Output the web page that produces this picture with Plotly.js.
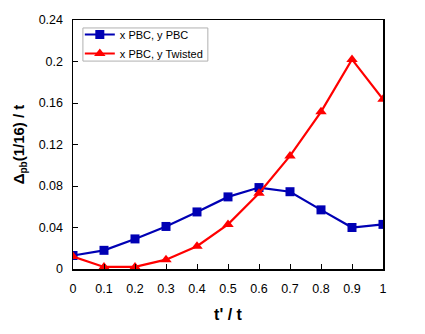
<!DOCTYPE html>
<html>
<head>
<meta charset="utf-8">
<script src="https://cdn.plot.ly/plotly-3.0.1.min.js"></script>
<style>
  html, body { margin: 0; padding: 0; background: #fff; }
  #plotArea { width: 425px; height: 334px; }
</style>
</head>
<body>
<div id="plotArea"></div>
<script>
// t'/t values and gap for the two boundary conditions
var tRatio = [0, 0.1, 0.2, 0.3, 0.4, 0.5, 0.6, 0.7, 0.8, 0.9, 1];
var gapPBC = [0.013, 0.018, 0.029, 0.041, 0.055, 0.0695, 0.0785, 0.0745, 0.057, 0.040, 0.043];
var gapTwisted = [0.012, 0.002, 0.002, 0.009, 0.022, 0.043, 0.073, 0.109, 0.1515, 0.202, 0.1635];
var xTicks = [0, 0.1, 0.2, 0.3, 0.4, 0.5, 0.6, 0.7, 0.8, 0.9, 1];
var yTicks = [0, 0.04, 0.08, 0.12, 0.16, 0.2, 0.24];

var font = "Liberation Sans, Arial, sans-serif";

var trace1 = {
	x: tRatio,
	y: gapPBC,
	mode: "lines+markers",
	type: "scatter",
	name: "x PBC, y PBC",
	line: { color: "#0000b4", width: 2.2 },
	marker: { symbol: "square", size: 9, color: "#0000b4" }
};

var trace2 = {
	x: tRatio,
	y: gapTwisted,
	mode: "lines+markers",
	type: "scatter",
	name: "x PBC, y Twisted",
	line: { color: "#ff0000", width: 2.2 },
	marker: { symbol: "triangle-up", size: 10, color: "#ff0000" }
};

var layout = {
	width: 425,
	height: 334,
	margin: { l: 73, r: 42, t: 20, b: 65 },
	paper_bgcolor: "#fff",
	plot_bgcolor: "#fff",
	font: { family: font, size: 12.5, color: "#000" },
	showlegend: true,
	legend: {
		x: 0.022, y: 1.0,
		xanchor: "left", yanchor: "top",
		bgcolor: "rgba(0,0,0,0)",
		borderwidth: 0,
		font: { family: font, size: 11, color: "#000" },
		tracegroupgap: 0,
		itemwidth: 30
	},
	// legend frame
	shapes: [{
		type: "rect", xref: "paper", yref: "paper",
		x0: 0.032, x1: 0.435, y0: 0.835, y1: 0.968,
		line: { color: "#b0b0b0", width: 1 },
		fillcolor: "#fff", layer: "below"
	}],
	xaxis: {
		range: [0, 1],
		tickvals: xTicks,
		ticktext: xTicks.map(String),
		ticks: "inside",
		ticklen: 5,
		tickcolor: "#000",
		showline: true,
		linecolor: "#000",
		linewidth: 1.5,
		mirror: true,
		showgrid: false,
		zeroline: false,
		ticklabelstandoff: 7,
		title: { text: "<b>t' / t</b>", font: { family: font, size: 16 }, standoff: 14 }
	},
	yaxis: {
		range: [0, 0.24],
		tickvals: yTicks,
		ticktext: yTicks.map(String),
		ticks: "inside",
		ticklen: 5,
		tickcolor: "#000",
		showline: true,
		linecolor: "#000",
		linewidth: 1.5,
		mirror: true,
		showgrid: false,
		zeroline: false,
		ticklabelstandoff: 6,
		title: {
			text: "<b>Δ<sub><span style=\"font-size:10px\">pb</span></sub>(1/16) / t</b>",
			font: { family: font, size: 15 }, standoff: 10
		}
	}
};

Plotly.newPlot("plotArea", [trace1, trace2], layout, { staticPlot: true });
</script>
</body>
</html>
